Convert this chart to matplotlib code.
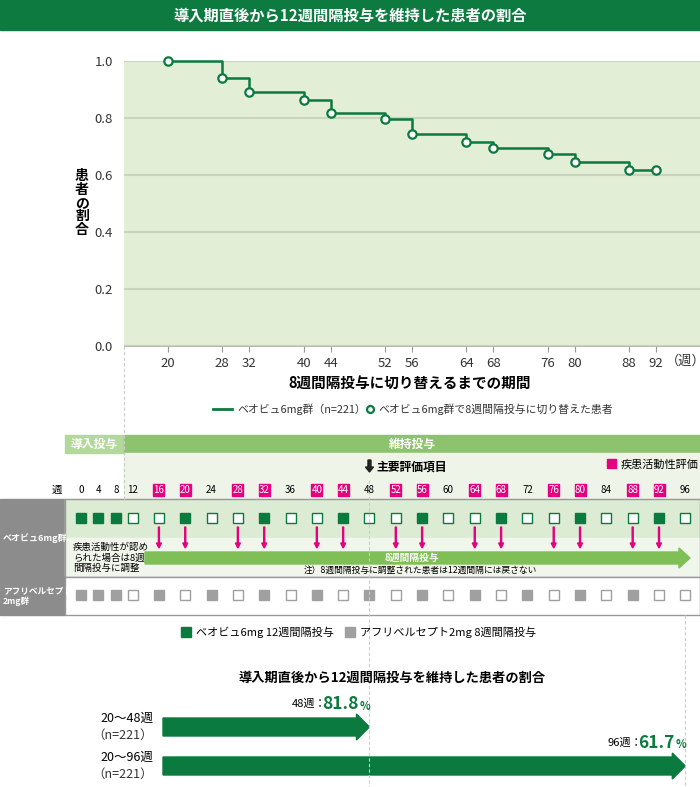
import matplotlib.pyplot as plt
from matplotlib.patches import Rectangle, FancyArrow, Polygon

plt.rcParams["font.family"] = ["Noto Sans CJK JP", "DejaVu Sans"]

# Kaplan-Meier style data
km_weeks = [20, 28, 32, 40, 44, 52, 56, 64, 68, 76, 80, 88, 92]
km_prop = [1.0, 0.941, 0.890, 0.862, 0.819, 0.795, 0.745, 0.717, 0.696, 0.675, 0.645, 0.619, 0.619]
y_ticks = [0.0, 0.2, 0.4, 0.6, 0.8, 1.0]

# dosing schedule
sched_weeks = [0, 4, 8, 12, 16, 20, 24, 28, 32, 36, 40, 44, 48, 52, 56, 60, 64, 68, 72, 76, 80, 84, 88, 92, 96]
assess_weeks = [16, 20, 28, 32, 40, 44, 52, 56, 64, 68, 76, 80, 88, 92]
beovu_dose = [0, 4, 8, 20, 32, 44, 56, 68, 80, 92]
afli_dose = [0, 4, 8, 16, 24, 32, 40, 48, 56, 64, 72, 80, 88]

# summary
sum_labels = ["20〜48週", "20〜96週"]
sum_end = [48, 96]
sum_pct = [81.8, 61.7]

DG = "#0b7a3e"
PINK = "#e4007f"
LBG = "#e2eed6"
GREY = "#8c8c8c"


def wx(w):
    # pixel x of a week in the schedule diagram
    if w <= 8:
        return {0: 81, 4: 98, 8: 116}[w]
    return 132.6 + (w - 12) * 6.58


fig = plt.figure(figsize=(7, 7.87), dpi=100)
ov = fig.add_axes([0, 0, 1, 1])
ov.set_xlim(0, 700)
ov.set_ylim(787, 0)
ov.axis("off")

# title bar
ov.add_patch(Rectangle((0, 0), 700, 30, color="#0d7a3f"))
ov.text(350, 15, "導入期直後から12週間隔投与を維持した患者の割合", color="white",
        fontsize=11, fontweight="bold", ha="center", va="center")

# KM plot
ax = fig.add_axes([124 / 700, 1 - 346 / 787, 576 / 700, 285 / 787])
ax.set_facecolor(LBG)
ax.set_xlim(13.5, 98.5)
ax.set_ylim(0, 1.0)
ax.step(km_weeks, km_prop, where="post", color=DG, lw=1.8, clip_on=False)
ax.plot(km_weeks, km_prop, "o", ms=6, mfc="white", mec=DG, mew=1.6, clip_on=False, zorder=5)
ax.set_yticks(y_ticks)
ax.set_yticklabels([f"{v:.1f}" for v in y_ticks], fontsize=9.5, color="#333333")
ax.set_xticks(km_weeks)
ax.set_xticklabels([str(w) for w in km_weeks], fontsize=9.5, color="#333333")
ax.tick_params(axis="y", length=0, pad=8)
ax.tick_params(axis="x", length=4, color="#999999", pad=4)
ax.grid(axis="y", color="#c8d4be", lw=1.5)
ax.set_axisbelow(True)
for s in ax.spines.values():
    s.set_visible(False)
ax.spines["bottom"].set_visible(True)
ax.spines["bottom"].set_color("#bbbbbb")

ov.text(666, 361, "（週）", fontsize=9.5, color="#333333", va="center")
ov.text(82, 203, "\n".join("患者の割合"), fontsize=10, fontweight="bold",
        ha="center", va="center", linespacing=0.95)
ov.text(410, 383, "8週間隔投与に切り替えるまでの期間", fontsize=10.5, fontweight="bold",
        ha="center", va="center")
ov.plot([213, 232], [409, 409], color=DG, lw=2)
ov.text(237, 409, "ベオビュ6mg群（n=221）", fontsize=7.8, va="center", color="#333333")
ov.plot([370], [409], "o", ms=5, mfc="white", mec=DG, mew=1.6)
ov.text(378, 409, "ベオビュ6mg群で8週間隔投与に切り替えた患者", fontsize=7.8, va="center", color="#333333")

# dashed guides
ov.plot([124, 124], [346, 500], color="#cccccc", lw=0.8, ls=(0, (3, 2)))
ov.plot([wx(48)] * 2, [480, 787], color="#cccccc", lw=0.8, ls=(0, (3, 2)))
ov.plot([wx(96)] * 2, [615, 787], color="#cccccc", lw=0.8, ls=(0, (3, 2)))

# schedule header
ov.add_patch(Rectangle((65, 435), 59, 18, color="#b3d89c"))
ov.add_patch(Rectangle((124, 435), 576, 18, color="#8dc36c"))
ov.text(94, 444, "導入投与", color="white", fontsize=8.5, fontweight="bold", ha="center", va="center")
ov.text(412, 444, "維持投与", color="white", fontsize=8.5, fontweight="bold", ha="center", va="center")
ov.add_patch(Rectangle((124, 453), 576, 47, color="#eef4e8"))
ov.add_patch(FancyArrow(wx(48), 460, 0, 12, width=3, head_width=8, head_length=5,
                        color="#222222", length_includes_head=True))
ov.text(wx(48) + 7, 467, "主要評価項目", fontsize=8.5, fontweight="bold", va="center")
ov.add_patch(Rectangle((607, 459), 9, 9, color=PINK))
ov.text(621, 464, "疾患活動性評価", fontsize=8, va="center")

ov.text(57, 490, "週", fontsize=7.5, ha="center", va="center")
for w in sched_weeks:
    if w in assess_weeks:
        ov.add_patch(Rectangle((wx(w) - 5.5, 484), 11, 12, color=PINK))
        ov.text(wx(w), 490, str(w), fontsize=7, color="white", ha="center", va="center")
    else:
        ov.text(wx(w), 490, str(w), fontsize=7, ha="center", va="center")

# Beovu row
ov.add_patch(Rectangle((0, 499), 65, 78, color=GREY))
ov.text(3, 538, "ベオビュ6mg群", color="white", fontsize=6.5, fontweight="bold", va="center")
ov.add_patch(Rectangle((65, 499), 635, 39, color="#dcebd3"))
ov.add_patch(Rectangle((65, 538), 635, 39, color="#f1f6ec"))
ov.add_patch(Rectangle((65, 499), 635, 78, fill=False, ec="#999999", lw=1))
for w in sched_weeks:
    filled = w in beovu_dose
    ov.add_patch(Rectangle((wx(w) - 5, 513), 10, 10, fc=DG if filled else "white", ec=DG, lw=1))
for w in assess_weeks:
    ov.add_patch(FancyArrow(wx(w), 527, 0, 21, width=1, head_width=5, head_length=5,
                            color=PINK, length_includes_head=True))
ov.add_patch(FancyArrow(145, 558, 545, 0, width=12, head_width=20, head_length=11,
                        color="#7fbf56", length_includes_head=True))
ov.text(412, 557.5, "8週間隔投与", color="white", fontsize=7, fontweight="bold", ha="center", va="center")
ov.text(420, 570.5, "注）8週間隔投与に調整された患者は12週間隔には戻さない", fontsize=6.3, ha="center", va="center")
ov.text(73, 558, "疾患活動性が認め\nられた場合は8週\n間隔投与に調整", fontsize=6.8, va="center", linespacing=1.15)

# Aflibercept row
ov.add_patch(Rectangle((0, 577), 65, 38, color=GREY))
ov.text(3, 596, "アフリベルセプト\n2mg群", color="white", fontsize=6.2, fontweight="bold", va="center")
ov.add_patch(Rectangle((65, 577), 635, 38, fc="white", ec="#999999", lw=1))
for w in sched_weeks:
    filled = w in afli_dose
    ov.add_patch(Rectangle((wx(w) - 5, 590), 10, 10, fc="#a0a0a0" if filled else "white",
                           ec="#a0a0a0", lw=1))

# legend
ov.add_patch(Rectangle((181, 627), 10, 10, color=DG))
ov.text(196, 632, "ベオビュ6mg 12週間隔投与", fontsize=8, va="center")
ov.add_patch(Rectangle((345, 627), 10, 10, color="#a0a0a0"))
ov.text(360, 632, "アフリベルセプト2mg 8週間隔投与", fontsize=8, va="center")

# summary
ov.text(392, 678, "導入期直後から12週間隔投与を維持した患者の割合", fontsize=9.5, fontweight="bold",
        ha="center", va="center")
for i, (lab, end, pct) in enumerate(zip(sum_labels, sum_end, sum_pct)):
    yc = 727 + i * 39
    x0, x1 = 163, wx(end)
    ov.add_patch(Polygon([(x0, yc - 9), (x1 - 13, yc - 9), (x1 - 13, yc - 13), (x1, yc),
                          (x1 - 13, yc + 13), (x1 - 13, yc + 9), (x0, yc + 9)], color=DG))
    ov.text(153, yc - 9, lab, fontsize=9, ha="right", va="center")
    ov.text(153, yc + 8, "（n=221）", fontsize=9, ha="right", va="center", color="#333333")
    ov.text(x1 - 11, yc - 23, f"{pct}", fontsize=12.5, fontweight="bold", color=DG,
            ha="right", va="center")
    ov.text(x1 - 10, yc - 21, "%", fontsize=8, fontweight="bold", color=DG, ha="left", va="center")
    ov.text(x1 - 43, yc - 23, f"{end}週：", fontsize=8, ha="right", va="center")

fig.savefig("out.png", dpi=100)
